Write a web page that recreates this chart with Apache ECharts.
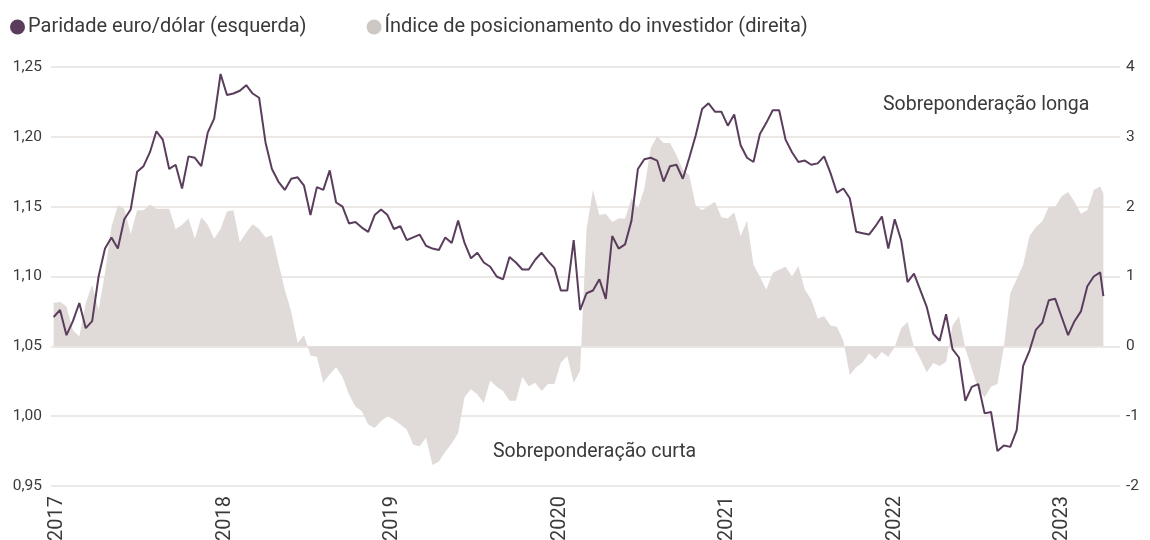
<!DOCTYPE html>
<html><head><meta charset="utf-8">
<script src="https://cdn.jsdelivr.net/npm/echarts@6/dist/echarts.min.js"></script>
<style>html,body{margin:0;padding:0;background:#fff}#c{width:1150px;height:540px}</style>
</head><body><div id="c"></div>
<script>
// Observations every two weeks, starting 2016-12-24; last observation one week after the previous one
const startDate = '2016-12-24';
const stepDays = 14;
const finalStepDays = 7;

const seriesNames = ['Paridade euro/dólar (esquerda)', 'Índice de posicionamento do investidor (direita)'];

const eurusd = [
  1.071, 1.076, 1.058, 1.068, 1.081, 1.063, 1.068, 1.100, 1.120, 1.128, 1.120, 1.141, 1.148, 1.175, 1.179, 1.189, 1.204, 1.198, 1.177, 1.180, 1.163,
  1.186, 1.185, 1.179, 1.203, 1.213, 1.245, 1.230, 1.231, 1.233, 1.237, 1.231, 1.228, 1.196, 1.177, 1.168, 1.162, 1.170, 1.171, 1.165, 1.144, 1.164,
  1.162, 1.176, 1.153, 1.150, 1.138, 1.139, 1.135, 1.132, 1.144, 1.148, 1.144, 1.134, 1.136, 1.126, 1.128, 1.130, 1.122, 1.120, 1.119, 1.128, 1.124,
  1.140, 1.124, 1.113, 1.117, 1.110, 1.107, 1.100, 1.098, 1.114, 1.110, 1.105, 1.105, 1.112, 1.117, 1.111, 1.106, 1.090, 1.090, 1.126, 1.076, 1.088,
  1.090, 1.098, 1.084, 1.129, 1.120, 1.123, 1.140, 1.177, 1.184, 1.185, 1.183, 1.168, 1.179, 1.180, 1.170, 1.185, 1.201, 1.220, 1.224, 1.218, 1.218,
  1.208, 1.216, 1.194, 1.185, 1.182, 1.202, 1.210, 1.219, 1.219, 1.198, 1.189, 1.182, 1.183, 1.180, 1.181, 1.186, 1.174, 1.160, 1.163, 1.156, 1.132,
  1.131, 1.130, 1.136, 1.143, 1.120, 1.141, 1.126, 1.096, 1.102, 1.090, 1.078, 1.059, 1.054, 1.073, 1.048, 1.042, 1.011, 1.021, 1.023, 1.002, 1.003,
  0.975, 0.979, 0.978, 0.990, 1.036, 1.047, 1.062, 1.067, 1.083, 1.084, 1.071, 1.058, 1.068, 1.075, 1.093, 1.100, 1.103, 1.086
];

const positioning = [
  0.62, 0.64, 0.57, 0.23, 0.14, 0.62, 0.88, 0.52, 1.05, 1.71, 2.02, 1.97, 1.61, 1.95, 1.95, 2.03, 1.97, 1.97, 1.97, 1.68, 1.74,
  1.83, 1.54, 1.85, 1.74, 1.54, 1.68, 1.93, 1.95, 1.49, 1.63, 1.75, 1.68, 1.56, 1.59, 1.20, 0.81, 0.50, 0.05, 0.16, -0.13, -0.15,
  -0.52, -0.40, -0.30, -0.44, -0.69, -0.86, -0.93, -1.12, -1.17, -1.07, -1.00, -1.05, -1.12, -1.19, -1.41, -1.43, -1.31, -1.70, -1.65, -1.51, -1.39,
  -1.24, -0.73, -0.61, -0.69, -0.81, -0.49, -0.58, -0.64, -0.78, -0.78, -0.44, -0.57, -0.52, -0.64, -0.54, -0.54, -0.23, -0.14, -0.52, -0.35, 1.68,
  2.24, 1.88, 1.90, 1.78, 1.83, 1.83, 2.12, 1.97, 2.26, 2.84, 3.01, 2.91, 2.91, 2.74, 2.53, 2.45, 2.02, 1.95, 2.01, 2.07, 1.85,
  1.83, 1.92, 1.58, 1.80, 1.17, 1.00, 0.81, 1.05, 1.10, 1.14, 1.00, 1.15, 0.81, 0.67, 0.40, 0.43, 0.30, 0.28, 0.08, -0.41, -0.30,
  -0.23, -0.10, -0.19, -0.08, -0.15, -0.01, 0.26, 0.35, -0.01, -0.18, -0.37, -0.24, -0.28, -0.22, 0.30, 0.43, -0.03, -0.32, -0.61, -0.73, -0.58,
  -0.54, -0.01, 0.76, 0.96, 1.17, 1.58, 1.71, 1.79, 2.00, 2.00, 2.15, 2.21, 2.07, 1.90, 1.95, 2.24, 2.29, 2.19
];

const yearTicks = [2017, 2018, 2019, 2020, 2021, 2022, 2023];
const leftAxis = { min: 0.95, max: 1.25, interval: 0.05 };
const rightAxis = { min: -2, max: 4, interval: 1 };
const annotations = ['Sobreponderação longa', 'Sobreponderação curta'];

// build x positions (decimal years) from the observation dates
const DAY = 864e5;
const t0 = Date.parse(startDate + 'T00:00:00Z');
const toYear = ms => 1970 + ms / (365.2425 * DAY);
const xs = eurusd.map((_, i) => {
  const last = eurusd.length - 1;
  const days = i < last ? i * stepDays : (last - 1) * stepDays + finalStepDays;
  return toYear(t0 + days * DAY);
});

const FONT = 'Roboto';
const TXT = '#3a3a3a';
const chart = echarts.init(document.getElementById('c'));
chart.setOption({
  animation: false,
  backgroundColor: '#fff',
  textStyle: { fontFamily: FONT },
  legend: {
    left: 5, top: 12,
    itemWidth: 15, itemHeight: 15, itemGap: 60,
    icon: 'circle',
    textStyle: { fontSize: 20, color: TXT, fontFamily: FONT, padding: [0, 0, 0, -2] },
    data: seriesNames
  },
  grid: { left: 51, right: 30, top: 67, bottom: 54, containLabel: false, outerBoundsMode: 'none' },
  xAxis: {
    type: 'value',
    min: 2016.964, max: 2023.346,
    axisLine: { show: false }, axisTick: { show: false }, splitLine: { show: false },
    axisLabel: {
      customValues: yearTicks, rotate: 90, margin: 10, fontSize: 20, color: TXT, fontFamily: FONT,
      formatter: v => String(Math.round(v))
    }
  },
  yAxis: [
    {
      type: 'value', min: leftAxis.min, max: leftAxis.max, interval: leftAxis.interval,
      axisLine: { show: false }, axisTick: { show: false },
      splitLine: { lineStyle: { color: '#e6e1de', width: 1.5 } },
      axisLabel: { fontSize: 15.5, color: TXT, margin: 9, fontFamily: FONT, formatter: v => v.toFixed(2).replace('.', ',') }
    },
    {
      type: 'value', min: rightAxis.min, max: rightAxis.max, interval: rightAxis.interval,
      axisLine: { show: false }, axisTick: { show: false }, splitLine: { show: false },
      axisLabel: { fontSize: 15.5, color: TXT, margin: 6, fontFamily: FONT, formatter: v => String(v) }
    }
  ],
  series: [
    {
      name: seriesNames[1], type: 'line', yAxisIndex: 1, z: 1,
      data: positioning.map((v, i) => [xs[i], v]),
      symbol: 'none', lineStyle: { width: 0 },
      itemStyle: { color: '#cdc8c4' },
      areaStyle: { color: '#e0dbd8', opacity: 1 }
    },
    {
      name: seriesNames[0], type: 'line', yAxisIndex: 0, z: 3,
      data: eurusd.map((v, i) => [xs[i], v]),
      symbol: 'none', lineStyle: { width: 2, color: '#5a3d5c' },
      itemStyle: { color: '#5a3d5c' }
    }
  ],
  graphic: [
    { type: 'text', x: 883, y: 105, style: { text: annotations[0], fontSize: 19.5, fill: TXT, fontFamily: FONT, align: 'left', verticalAlign: 'middle' } },
    { type: 'text', x: 493, y: 452, style: { text: annotations[1], fontSize: 19.5, fill: TXT, fontFamily: FONT, align: 'left', verticalAlign: 'middle' } }
  ]
});
</script></body></html>
